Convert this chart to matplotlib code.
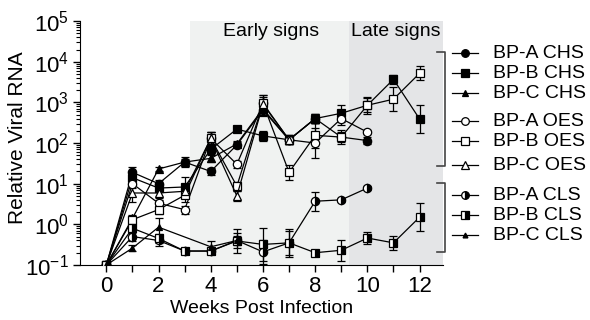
import numpy as np
import matplotlib.pyplot as plt
from matplotlib.lines import Line2D
from matplotlib.ticker import LogLocator, LogFormatterSciNotation, NullFormatter

plt.rcParams['font.family'] = ['Liberation Sans', 'DejaVu Sans']
plt.rcParams['mathtext.default'] = 'regular'

# weeks per series and values (relative viral RNA)
wk_a_chs = [0, 1, 2, 3, 4, 5, 6, 7, 8, 9, 10]
a_chs = [0.1, 19, 10, 34, 20, 90, 650, 120, 400, 140, 115]
a_chs_err = [1, 1.35, 1.2, 1.3, 1.25, 1.15, 1.4, 1.2, 1.3, 1.3, 1.2]

wk_b_chs = [0, 1, 2, 3, 4, 5, 6, 7, 8, 9, 10, 11, 12]
b_chs = [0.1, 14, 7.8, 8.3, 70, 220, 150, 120, 400, 540, 850, 3700, 390]
b_chs_err = [1, 1.3, 1.2, 1.8, 1.3, 1.1, 1.3, 1.3, 1.3, 1.6, 1.6, 1.3, 2.2]

wk_c_chs = [0, 1, 2, 3, 4, 5, 6, 7, 8]
c_chs = [0.1, 1.4, 23, 34, 42, 95, 700, 120, 400]
c_chs_err = [1, 1.2, 1.1, 1.2, 1.2, 1.2, 1.4, 1.2, 1.3]

wk_a_oes = [0, 1, 2, 3, 4, 5, 6, 7, 8, 9, 10]
a_oes = [0.1, 10, 3.3, 2.3, 130, 30, 950, 120, 100, 400, 185]
a_oes_err = [1, 1.3, 1.2, 1.25, 1.4, 1.2, 1.6, 1.3, 2.3, 1.4, 1.1]

wk_b_oes = [0, 1, 2, 3, 4, 5, 6, 7, 8, 9, 10, 11, 12]
b_oes = [0.1, 1.3, 2.3, 5.2, 130, 8.7, 950, 19, 155, 140, 850, 1200, 5200]
b_oes_err = [1, 1.2, 1.3, 1.5, 1.4, 1.3, 1.6, 1.5, 2.0, 1.5, 1.5, 2.0, 1.5]

wk_c_oes = [0, 1, 2, 3, 4, 5, 6, 7]
c_oes = [0.1, 5.9, 5.9, 6.5, 130, 5.0, 900, 120]
c_oes_err = [1, 1.7, 1.3, 1.3, 1.4, 1.3, 1.5, 1.3]

wk_a_cls = [0, 1, 2, 3, 4, 5, 6, 7, 8, 9, 10]
a_cls = [0.1, 0.5, 0.4, 0.22, 0.22, 0.4, 0.21, 0.35, 3.7, 4.0, 7.8]
a_cls_err = [1, 1.3, 1.4, 1.2, 1.2, 1.5, 2.0, 2.0, 1.7, 1.1, 1.1]

wk_b_cls = [0, 1, 2, 3, 4, 5, 6, 7, 8, 9, 10, 11, 12]
b_cls = [0.1, 0.8, 0.45, 0.22, 0.22, 0.39, 0.32, 0.35, 0.2, 0.23, 0.46, 0.35, 1.5]
b_cls_err = [1, 1.3, 1.3, 1.2, 1.2, 2.0, 2.5, 2.2, 1.1, 1.8, 1.4, 1.5, 2.2]

wk_c_cls = [0, 1, 2, 4, 5]
c_cls = [0.1, 0.26, 0.85, 0.28, 0.4]
c_cls_err = [1, 1.2, 1.7, 1.4, 1.3]

series = [
    ("BP-A CHS", wk_a_chs, a_chs, a_chs_err, dict(marker='o', mfc='black', ms=6)),
    ("BP-B CHS", wk_b_chs, b_chs, b_chs_err, dict(marker='s', mfc='black', ms=6)),
    ("BP-C CHS", wk_c_chs, c_chs, c_chs_err, dict(marker='^', mfc='black', ms=5.5)),
    ("BP-A OES", wk_a_oes, a_oes, a_oes_err, dict(marker='o', mfc='white', ms=6)),
    ("BP-B OES", wk_b_oes, b_oes, b_oes_err, dict(marker='s', mfc='white', ms=6)),
    ("BP-C OES", wk_c_oes, c_oes, c_oes_err, dict(marker='^', mfc='white', ms=6)),
    ("BP-A CLS", wk_a_cls, a_cls, a_cls_err, dict(marker='o', mfc='black', fillstyle='right', mfcalt='white', ms=6)),
    ("BP-B CLS", wk_b_cls, b_cls, b_cls_err, dict(marker='s', mfc='black', fillstyle='right', mfcalt='white', ms=6)),
    ("BP-C CLS", wk_c_cls, c_cls, c_cls_err, dict(marker='^', mfc='black', ms=4)),
]

fig = plt.figure(figsize=(5.9, 3.2), dpi=100)
ax = fig.add_axes([0.136, 0.172, 0.615, 0.762])

ax.axvspan(3.2, 9.3, color='#f0f2f1', lw=0, zorder=0)
ax.axvspan(9.3, 13.2, color='#e4e5e7', lw=0, zorder=0)

for name, wk, vals, err, st in series:
    v = np.array(vals, dtype=float)
    f = np.array(err, dtype=float)
    lo = v - v / f
    hi = v * f - v
    ax.errorbar(wk, v, yerr=[lo, hi], fmt='none', ecolor='black', elinewidth=0.9,
                capsize=3, capthick=0.9, zorder=2)
    kw = dict(color='black', lw=0.9, marker=st['marker'], ms=st['ms'],
              mfc=st['mfc'], mec='black', mew=0.9, zorder=3)
    if 'fillstyle' in st:
        kw['fillstyle'] = st['fillstyle']
        kw['markerfacecoloralt'] = st['mfcalt']
    ax.plot(wk, v, **kw)

ax.set_yscale('log')
ax.set_ylim(0.1, 1e5)
ax.set_yticks([10.0 ** k for k in range(-1, 6)])
ax.yaxis.set_major_formatter(LogFormatterSciNotation())
ax.yaxis.set_minor_locator(LogLocator(base=10, subs=np.arange(2, 10), numticks=20))
ax.yaxis.set_minor_formatter(NullFormatter())
ax.set_xlim(-1, 12.9)
ax.set_xticks(range(0, 13, 2))
ax.set_xticks(range(0, 13), minor=True)
ax.tick_params(axis='both', which='major', labelsize=16, direction='out', length=5, width=1, pad=3)
ax.tick_params(axis='x', which='minor', length=5, width=1)
ax.tick_params(axis='y', which='minor', length=3, width=0.8)
ax.spines['top'].set_visible(False)
ax.spines['right'].set_visible(False)
ax.set_ylabel("Relative Viral RNA", fontsize=15)
ax.yaxis.set_label_coords(-0.148, 0.52)
ax.set_xlabel("Weeks Post Infection", fontsize=14, labelpad=2)

ax.text(6.3, 10**4.74, "Early signs", ha='center', va='center', fontsize=14)
ax.text(11.1, 10**4.74, "Late signs", ha='center', va='center', fontsize=14)

# brackets grouping the legend
W, H = 590.0, 320.0
def bracket(y0, y1):
    xs = [437 / W, 445 / W, 445 / W, 437 / W]
    ys = [1 - y0 / H, 1 - y0 / H, 1 - y1 / H, 1 - y1 / H]
    fig.add_artist(Line2D(xs, ys, color='#444444', lw=1.2))
bracket(52, 166)
bracket(183, 252)

rows = [53, 73, 93, 121, 141, 165, 195, 215, 235]
for (name, wk, vals, err, st), yp in zip(series, rows):
    y = 1 - yp / H
    fig.add_artist(Line2D([452 / W, 478 / W], [y, y], color='black', lw=0.9))
    kw = dict(marker=st['marker'], ms=st['ms'] - 0.5, mfc=st['mfc'], mec='black', mew=0.9, color='black', lw=0)
    if 'fillstyle' in st:
        kw['fillstyle'] = st['fillstyle']
        kw['markerfacecoloralt'] = st['mfcalt']
    fig.add_artist(Line2D([465 / W], [y], **kw))
    fig.text(493 / W, y, name, fontsize=14, va='center', ha='left')

fig.savefig("out.png", dpi=100)
